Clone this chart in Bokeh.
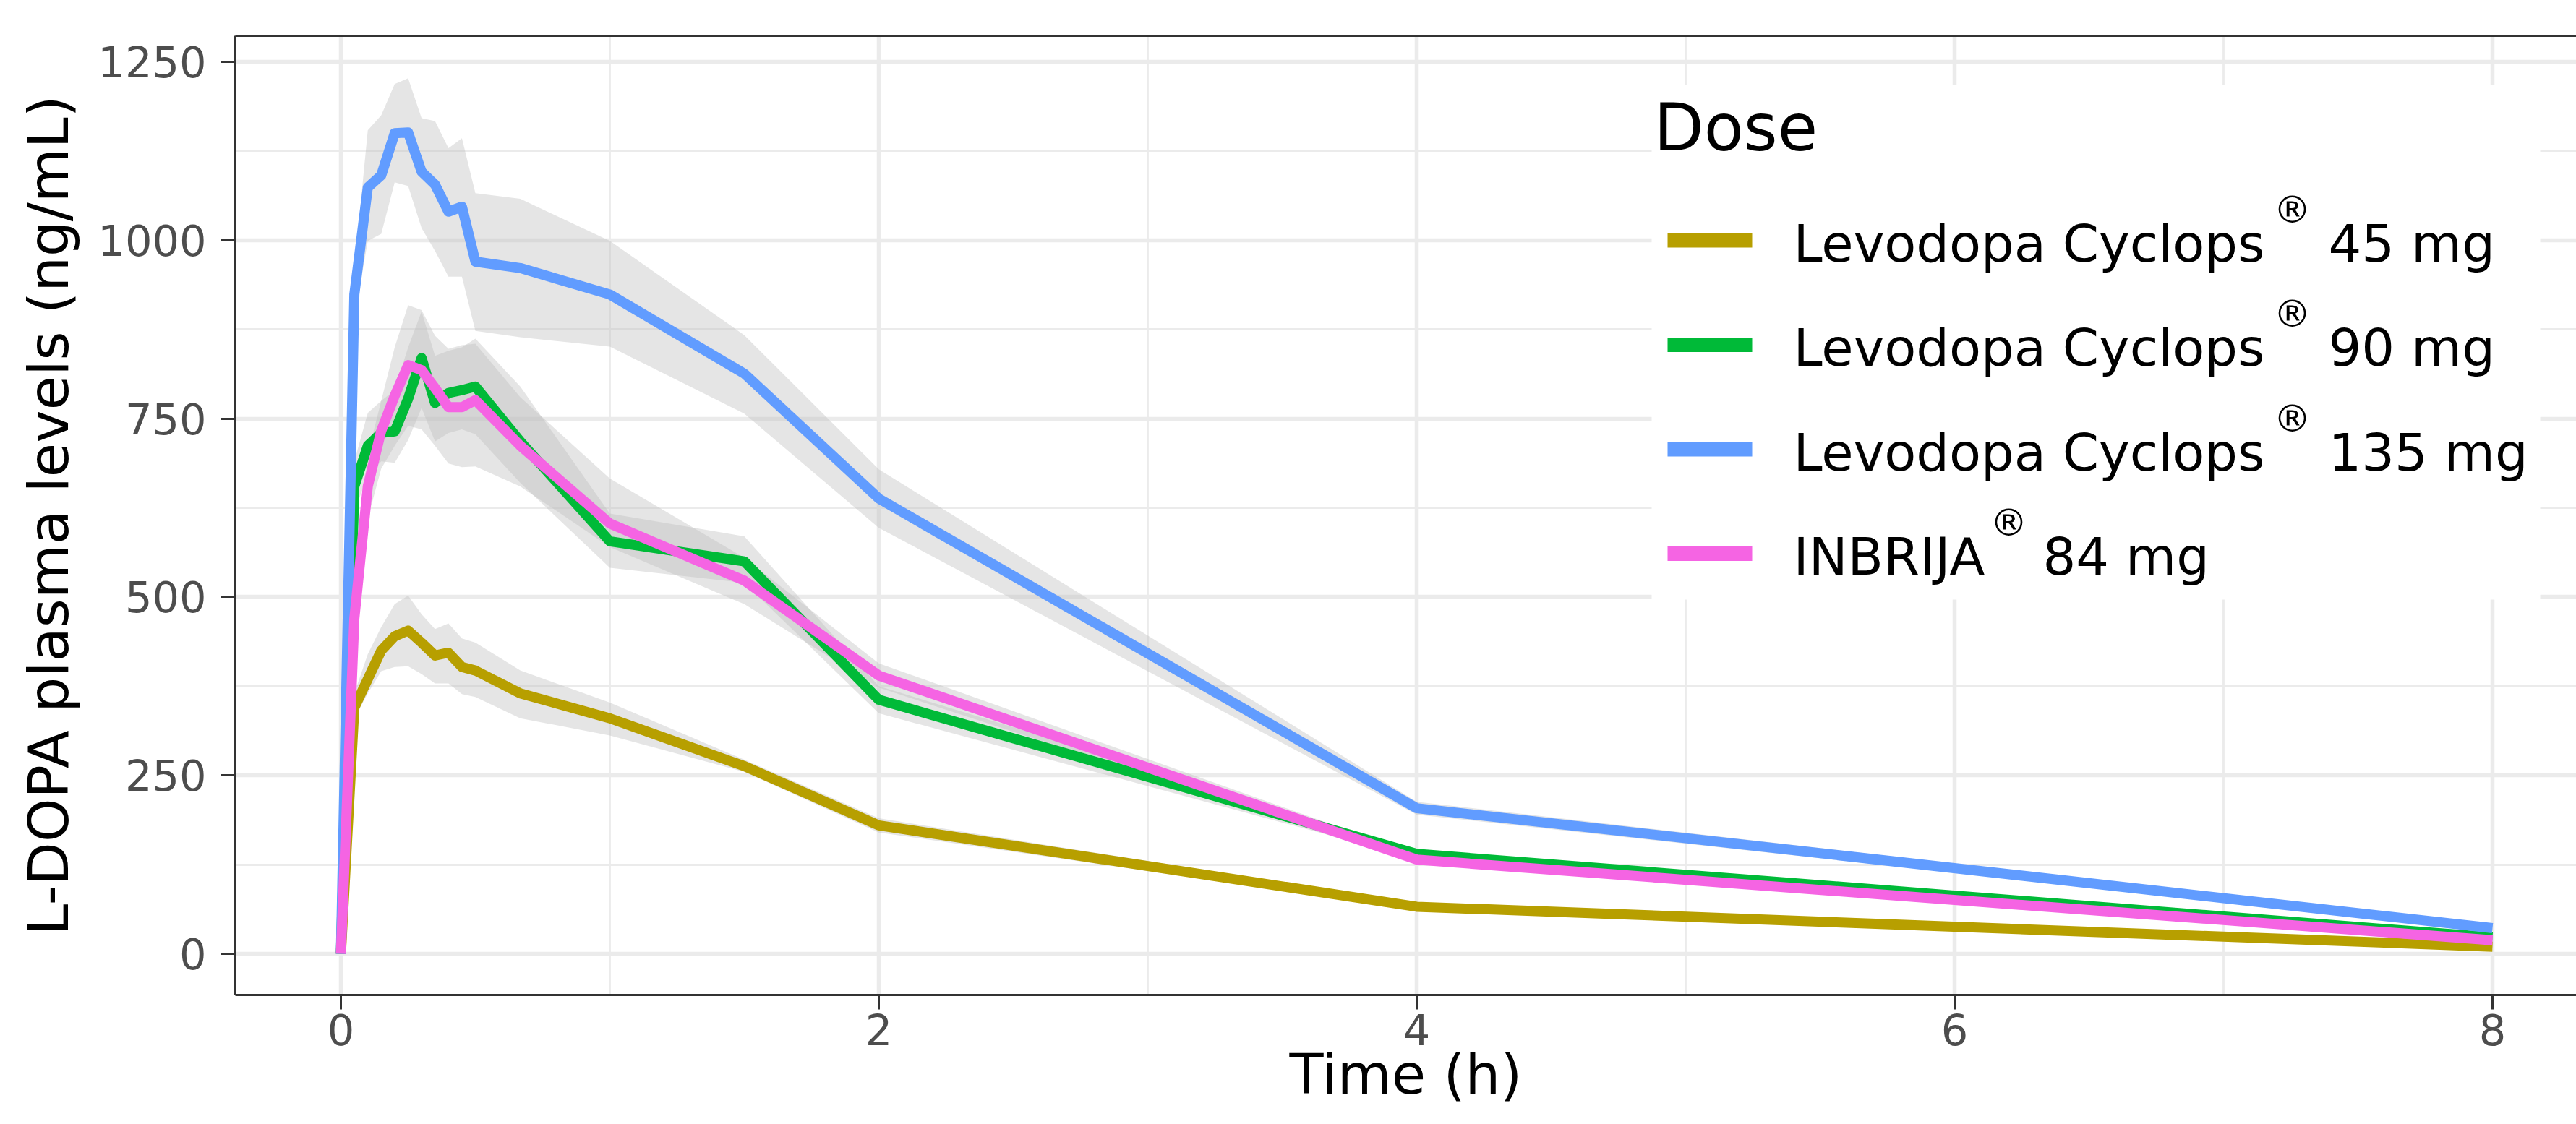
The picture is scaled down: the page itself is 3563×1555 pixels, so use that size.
from bokeh.plotting import figure
from bokeh.models import (Range1d, SingleIntervalTicker, FixedTicker, LinearAxis, BoxAnnotation,
                          Label, ColumnDataSource)
from bokeh.embed import file_html
from bokeh.resources import INLINE

# ---------------- data ----------------
time_h = [0, 0.05, 0.1, 0.15, 0.2, 0.25, 0.3, 0.35, 0.4, 0.45, 0.5, 0.667, 1, 1.5, 2, 4, 8]

dose_labels = ["Levodopa Cyclops® 45 mg", "Levodopa Cyclops® 90 mg",
               "Levodopa Cyclops® 135 mg", "INBRIJA® 84 mg"]

cyc45_mean  = [0, 345, 385, 425, 445, 453, 436, 418, 422, 402, 397, 365, 330, 263, 180, 66, 10]
cyc45_upper = [0, 365, 420, 458, 490, 502, 476, 455, 463, 442, 436, 397, 352, 272, 190, 70, 12]
cyc45_lower = [0, 330, 365, 396, 402, 403, 392, 379, 379, 364, 360, 330, 306, 255, 170, 62, 9]

cyc90_mean  = [0, 655, 712, 730, 732, 778, 835, 772, 786, 790, 795, 718, 578, 550, 356, 140, 23]
cyc90_upper = [0, 690, 758, 775, 790, 850, 900, 838, 845, 850, 862, 795, 617, 585, 375, 145, 25]
cyc90_lower = [0, 620, 670, 690, 688, 720, 765, 718, 730, 735, 728, 660, 541, 520, 337, 133, 20]

cyc135_mean  = [0, 924, 1074, 1091, 1150, 1151, 1096, 1078, 1040, 1047, 970, 961, 924, 813, 638, 204, 36]
cyc135_upper = [0, 960, 1154, 1175, 1219, 1227, 1171, 1167, 1129, 1143, 1066, 1058, 999, 867, 679, 213, 40]
cyc135_lower = [0, 890, 999, 1009, 1081, 1076, 1017, 985, 949, 949, 873, 864, 851, 757, 597, 195, 32]

inb84_mean  = [0, 470, 655, 733, 782, 825, 818, 793, 766, 766, 776, 712, 603, 523, 390, 132, 19]
inb84_upper = [0, 520, 700, 775, 850, 909, 902, 866, 848, 853, 855, 780, 666, 555, 407, 139, 21]
inb84_lower = [0, 420, 610, 680, 712, 740, 735, 712, 687, 682, 683, 655, 570, 490, 373, 126, 16]

x_ticks_major = 2
y_ticks_major = 250
x_title = "Time (h)"
y_title = "L-DOPA plasma levels (ng/mL)"
legend_title = "Dose"

means = [cyc45_mean, cyc90_mean, cyc135_mean, inb84_mean]
uppers = [cyc45_upper, cyc90_upper, cyc135_upper, inb84_upper]
lowers = [cyc45_lower, cyc90_lower, cyc135_lower, inb84_lower]
colors = ["#B79F00", "#00BA38", "#619CFF", "#F564E3"]

# ---------------- layout ----------------
W, H = 3563, 1555
FL, FT, FB = 325, 49, 179
FW = W - FL
FH = H - FT - FB
x0, x1 = -0.3925, (W - 471) / 372.0
y0, y1 = -57.7, 1286.5

FONT = "DejaVu Sans"

p = figure(width=W, height=H, x_range=Range1d(x0, x1), y_range=Range1d(y0, y1),
           output_backend="svg", toolbar_location=None,
           min_border_left=FL, min_border_top=FT, min_border_bottom=FB, min_border_right=0,
           background_fill_color="white", border_fill_color="white",
           outline_line_color=None)

xt = SingleIntervalTicker(interval=x_ticks_major, num_minor_ticks=2)
yt = SingleIntervalTicker(interval=y_ticks_major, num_minor_ticks=2)
p.xaxis.ticker = xt
p.yaxis.ticker = yt
p.xgrid.ticker = xt
p.ygrid.ticker = yt
for g in (p.xgrid[0], p.ygrid[0]):
    g.grid_line_color = "#EBEBEB"
    g.grid_line_width = 5.5
    g.minor_grid_line_color = "#EBEBEB"
    g.minor_grid_line_width = 2.8

for ax in (p.xaxis[0], p.yaxis[0]):
    ax.axis_line_color = "#333333"
    ax.axis_line_width = 3
    ax.major_tick_line_color = "#333333"
    ax.major_tick_line_width = 3
    ax.major_tick_out = 20
    ax.major_tick_in = 0
    ax.minor_tick_line_color = None
    ax.major_label_text_font = FONT
    ax.major_label_text_font_size = "59px"
    ax.major_label_text_color = "#4D4D4D"
    ax.axis_label_text_font = FONT
    ax.axis_label_text_font_size = "77px"
    ax.axis_label_text_font_style = "normal"
    ax.axis_label_text_color = "black"

p.xaxis.axis_label = x_title
p.yaxis.axis_label = y_title
p.xaxis.major_label_standoff = 6
p.xaxis.axis_label_standoff = -7
p.yaxis.major_label_standoff = 20
p.yaxis.axis_label_standoff = 20

top_axis = LinearAxis(ticker=FixedTicker(ticks=[]),
                      axis_line_color="#333333", axis_line_width=3,
                      major_tick_line_color=None, minor_tick_line_color=None)
p.add_layout(top_axis, "above")

# ribbons then lines
for lo, up in zip(lowers, uppers):
    src = ColumnDataSource(dict(t=time_h, lo=lo, up=up))
    p.varea(x="t", y1="lo", y2="up", source=src, fill_color="#BEBEBE", fill_alpha=0.4)
for m, c in zip(means, colors):
    src = ColumnDataSource(dict(t=time_h, m=m))
    p.line(x="t", y="m", source=src, line_color=c, line_width=14, line_join="round")

# ---------------- page pixel positions -> data coords (legend layout only) ----------------
def dx(X):
    return x0 + (X - FL) / FW * (x1 - x0)

def dy(Y):
    return y1 - (Y - FT) / FH * (y1 - y0)

# legend box
p.add_layout(BoxAnnotation(left=dx(2284), right=dx(3513), top=dy(117), bottom=dy(829),
                           fill_color="white", fill_alpha=1.0, line_color=None))
# Label anchors sit at the vertical centre of the text box
p.add_layout(Label(x=dx(2287), y=dy(176), text=legend_title, text_font=FONT,
                   text_font_size="90px", text_baseline="alphabetic", text_align="left",
                   text_color="black"))

row_base = [361, 505.5, 650, 794.5]
reg_x = [3144, 3144, 3144, 2752]
dose_x = [3220, 3220, 3220, 2825]
for i, (lab, c) in enumerate(zip(dose_labels, colors)):
    main, rest = lab.split("®")
    Y = row_base[i]
    yc = Y - 29
    p.add_layout(BoxAnnotation(left=dx(2306), right=dx(2423), top=dy(yc - 10), bottom=dy(yc + 10),
                               fill_color=c, fill_alpha=1.0, line_color=None))
    p.add_layout(Label(x=dx(2480), y=dy(Y - 25), text=main, text_font=FONT, text_font_size="72px",
                       text_baseline="alphabetic", text_align="left", text_color="black"))
    p.add_layout(Label(x=dx(reg_x[i]), y=dy(Y - 72), text="®", text_font=FONT,
                       text_font_size="52px", text_baseline="alphabetic", text_align="left",
                       text_color="black"))
    p.add_layout(Label(x=dx(dose_x[i]), y=dy(Y - 25), text=rest.strip(), text_font=FONT,
                       text_font_size="72px", text_baseline="alphabetic", text_align="left",
                       text_color="black"))

open("out.html", "w").write(file_html(p, INLINE))
